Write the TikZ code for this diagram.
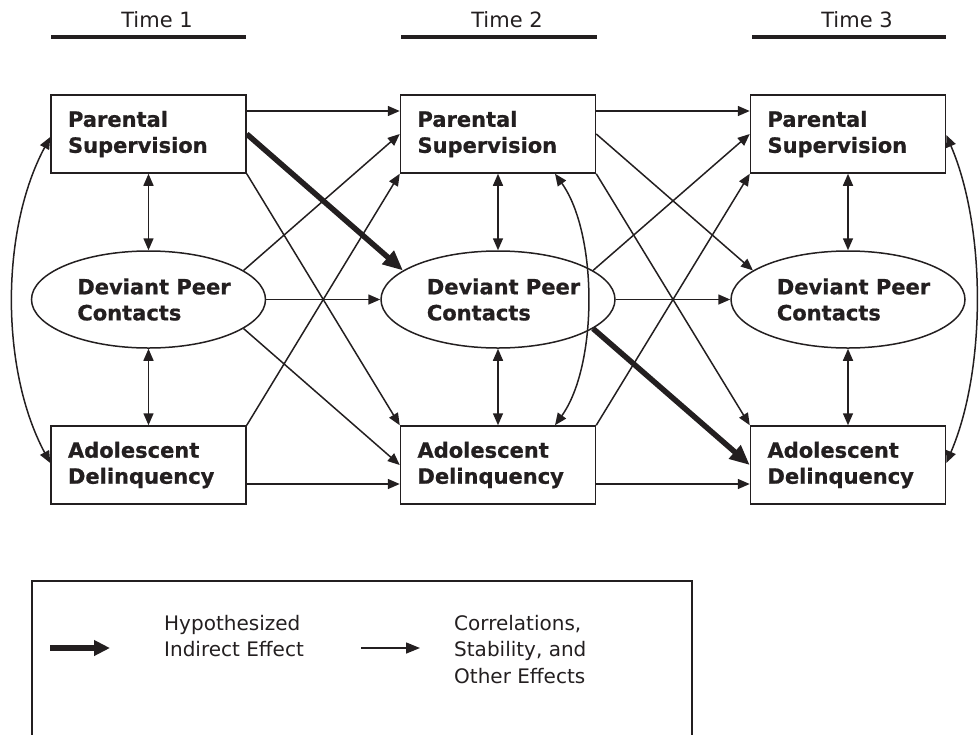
\documentclass[tikz,border=0pt]{standalone}
\usepackage{fontspec}
\setmainfont{DejaVu Sans}[BoldFeatures={FakeBold=0.8}]
\usetikzlibrary{arrows.meta,shapes.geometric,calc}
\definecolor{ink}{RGB}{35,31,32}
\newcommand\mynodefont{\fontsize{21}{26}\selectfont\bfseries}
\newcommand\myheadfont{\fontsize{21}{26}\selectfont}
\newcommand\mylegfont{\fontsize{20}{26.5}\selectfont}
\begin{document}
\begin{tikzpicture}[x=1pt,y=-1pt,color=ink,
  box/.style={draw=ink,line width=1.5pt,rectangle,text width=161pt,inner xsep=17pt,inner ysep=0pt,minimum height=78pt,align=left,font=\mynodefont},
  oval/.style={draw=ink,line width=1.5pt,ellipse,minimum width=234pt,minimum height=97pt,inner sep=0pt,align=left,font=\mynodefont},
  effect/.style={line width=1.5pt,-{Triangle[length=12pt,width=10pt]}},
  corr/.style={line width=1.5pt,{Triangle[length=12pt,width=10pt]}-{Triangle[length=12pt,width=10pt]}},
  indirect/.style={line width=5.5pt,-{Triangle[length=20pt,width=17pt]}},
  legtext/.style={font=\mylegfont,align=left,inner sep=0pt,anchor=north west},
  headtext/.style={font=\myheadfont,inner sep=0pt},
  bar/.style={line width=4pt}]
\useasboundingbox (0,0) rectangle (979,734);

% headers
\node[headtext] (T1) at (157,20) {Time 1};
\node[headtext] (T2) at (507,20) {Time 2};
\node[headtext] (T3) at (857,20) {Time 3};
\draw[bar] (51,37) -- (246,37);
\draw[bar] (401,37) -- (597,37);
\draw[bar] (752,37) -- (946,37);

% nodes
\foreach \c/\x in {1/148.5,2/498,3/848}{
  \node[box] (PS\c) at (\x,134) {Parental\\Supervision};
  \node[oval] (DP\c) at (\x,299.5) {\hspace*{11pt}Deviant Peer\\\hspace*{11pt}Contacts};
  \node[box] (AD\c) at (\x,465) {Adolescent\\Delinquency};
}

% cross-time effects
\foreach \a/\b in {1/2,2/3}{
  \draw[effect] ([yshift=23pt]PS\a.east) -- ([yshift=23pt]PS\b.west);
  \draw[effect] (PS\a.south east) -- (AD\b.north west);
  \draw[effect] (DP\a.17) -- (PS\b.west);
  \draw[effect] (DP\a.east) -- (DP\b.west);
  \draw[effect] (AD\a.north east) -- (PS\b.south west);
  \draw[effect] ([yshift=-19pt]AD\a.east) -- ([yshift=-19pt]AD\b.west);
}
\draw[effect] (DP1.-17) -- (AD2.west);
\draw[effect] (PS2.east) -- (DP3.163);
\draw[indirect] (PS1.east) -- (DP2.163);
\draw[indirect] (DP2.-17) -- (AD3.west);

% within-time correlations
\foreach \c in {1,2,3}{
  \draw[corr] (PS\c.south) -- (DP\c.north);
  \draw[corr] (DP\c.south) -- (AD\c.north);
}
\draw[corr] ([yshift=-3pt]PS1.west) .. controls +(-50,93) and +(-50,-93) .. ([yshift=2pt]AD1.west);
\draw[corr] ([xshift=57pt]PS2.south) .. controls +(43,60) and +(43,-60) .. ([xshift=57pt]AD2.north);
\draw[corr] ([yshift=-1pt]PS3.east) .. controls +(40,93) and +(40,-93) .. ([yshift=2pt]AD3.east);

% legend
\draw[line width=1.5pt] (32,740) -- (32,581) -- (692,581) -- (692,740);
\coordinate (LA1) at (50,648);
\coordinate (LA2) at (110,648);
\coordinate (LB1) at (361,648);
\coordinate (LB2) at (420,648);
\draw[line width=6pt,-{Triangle[length=16pt,width=15pt]}] (LA1) -- (LA2);
\draw[line width=1.5pt,-{Triangle[length=14pt,width=11pt]}] (LB1) -- (LB2);
\node[legtext] (LT1) at (164,615) {Hypothesized\\Indirect Effect};
\node[legtext] (LT2) at (454,615) {Correlations,\\Stability, and\\Other Effects};
\end{tikzpicture}
\end{document}
